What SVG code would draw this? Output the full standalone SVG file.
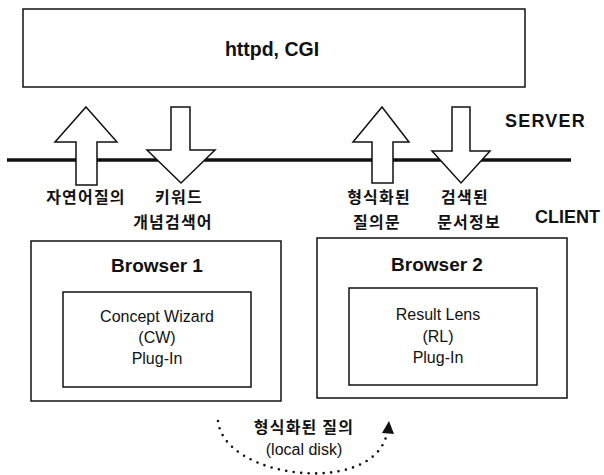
<svg xmlns="http://www.w3.org/2000/svg" width="604" height="475" viewBox="0 0 604 475">
<defs>
<style>
.box{fill:#fff;stroke:#111;stroke-width:1.5}
.arr{fill:#fff;stroke:#111;stroke-width:1.5;stroke-linejoin:miter}
.lat{font-family:"Liberation Sans",Arial,sans-serif;fill:#111}
.kr{font-family:"Noto Sans CJK KR","Noto Sans",sans-serif;fill:#111;font-size:16px;letter-spacing:1.2px;font-weight:bold}
.b{font-weight:bold}
</style>
</defs>
<rect width="604" height="475" fill="#fff"/>
<g id="server">
<rect class="box" x="23" y="9" width="502" height="78"/>
<text class="lat b" x="272" y="56" font-size="19.5" text-anchor="middle">httpd, CGI</text>
</g>
<g id="network">
<line x1="7" y1="160" x2="571" y2="160" stroke="#111" stroke-width="3.5"/>
<text class="lat b" x="505" y="127" font-size="18" letter-spacing="1.2">SERVER</text>
<text class="lat b" x="535" y="223" font-size="18">CLIENT</text>
</g>
<g id="connectors">
<polygon class="arr" points="86,107 117,142 97,142 97,185 76,185 76,142 55,142"/>
<polygon class="arr" points="171,107 190,107 190,150 215,150 181,183 147,150 171,150"/>
<polygon class="arr" points="382,107 409,142 393,142 393,183 372,183 372,142 353,142"/>
<polygon class="arr" points="452,107 470,107 470,151 490,151 461,183 432,151 452,151"/>
<path d="M218,421 C224,478 368,496 386,437" fill="none" stroke="#111" stroke-width="2.6" stroke-linecap="round" stroke-dasharray="0 7.5"/>
<polygon points="389,421 394,434 382,433" fill="#111"/>
</g>
<g id="labels">
<text class="kr" x="86" y="203" text-anchor="middle">자연어질의</text>
<text class="kr" x="179" y="203" text-anchor="middle">키워드</text>
<text class="kr" x="173" y="228" text-anchor="middle">개념검색어</text>
<text class="kr" x="379" y="203" text-anchor="middle">형식화된</text>
<text class="kr" x="377" y="228" text-anchor="middle">질의문</text>
<text class="kr" x="465" y="203" text-anchor="middle">검색된</text>
<text class="kr" x="469" y="228" text-anchor="middle">문서정보</text>
</g>
<g id="browser1">
<rect class="box" x="31" y="241" width="250" height="160"/>
<text class="lat b" x="157" y="272" font-size="19" text-anchor="middle">Browser 1</text>
<g id="cw">
<rect class="box" x="63" y="292" width="188" height="95"/>
<text class="lat" x="157" y="322" font-size="16" text-anchor="middle">Concept Wizard</text>
<text class="lat" x="157" y="343" font-size="16" text-anchor="middle">(CW)</text>
<text class="lat" x="157" y="364" font-size="16" text-anchor="middle">Plug-In</text>
</g>
</g>
<g id="browser2">
<rect class="box" x="317" y="238" width="250" height="160"/>
<text class="lat b" x="437" y="271" font-size="19" text-anchor="middle">Browser 2</text>
<g id="rl">
<rect class="box" x="349" y="288" width="188" height="97"/>
<text class="lat" x="438" y="320" font-size="16" text-anchor="middle">Result Lens</text>
<text class="lat" x="438" y="342" font-size="16" text-anchor="middle">(RL)</text>
<text class="lat" x="438" y="363" font-size="16" text-anchor="middle">Plug-In</text>
</g>
</g>
<g id="localdisk">
<text class="kr" x="304" y="433" text-anchor="middle">형식화된 질의</text>
<text class="lat" x="304" y="455" font-size="16" text-anchor="middle">(local disk)</text>
</g>
</svg>
